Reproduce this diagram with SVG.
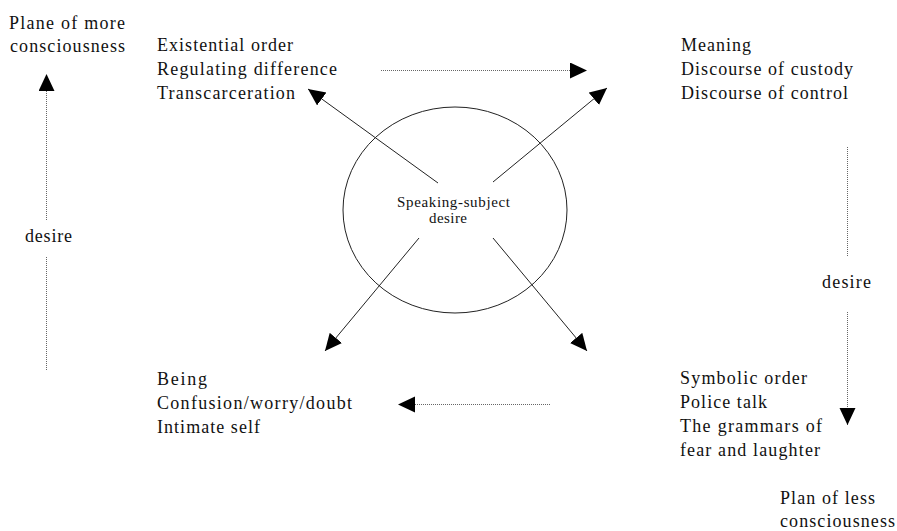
<svg xmlns="http://www.w3.org/2000/svg" width="897" height="531" viewBox="0 0 897 531">
<style>
  text { font-family: 'Liberation Serif', 'DejaVu Serif', serif; font-size: 18px; fill: #111; }
  .small { font-size: 15px; }
  .solid { stroke: #222; stroke-width: 1; fill: none; }
  .dot { stroke: #666; stroke-width: 1; stroke-dasharray: 1 1; fill: none; }
</style>
<defs>
  <marker id="ah" markerUnits="userSpaceOnUse" markerWidth="18" markerHeight="17" refX="17" refY="8" orient="auto" viewBox="0 0 18 17">
    <path d="M0,0 L17,8 L0,16 Z" fill="#000" stroke="none"/>
  </marker>
</defs>
<rect width="897" height="531" fill="#fff"/>

<g font-family="Liberation Serif, serif">
<g id="center">
  <ellipse cx="455" cy="210" rx="112" ry="103" fill="none" stroke="#222" stroke-width="1"/>
  <text class="small" x="397" y="207" textLength="113" lengthAdjust="spacing">Speaking-subject</text>
  <text class="small" x="429" y="223" textLength="38" lengthAdjust="spacing">desire</text>
</g>

<g id="top-left">
  <text x="157" y="51" textLength="136" lengthAdjust="spacing">Existential order</text>
  <text x="157" y="75" textLength="180" lengthAdjust="spacing">Regulating difference</text>
  <text x="157" y="99" textLength="138" lengthAdjust="spacing">Transcarceration</text>
</g>

<g id="top-right">
  <text x="681" y="51" textLength="70" lengthAdjust="spacing">Meaning</text>
  <text x="681" y="75" textLength="172" lengthAdjust="spacing">Discourse of custody</text>
  <text x="681" y="99" textLength="167" lengthAdjust="spacing">Discourse of control</text>
</g>

<g id="bottom-left">
  <text x="157" y="385" textLength="50" lengthAdjust="spacing">Being</text>
  <text x="157" y="409" textLength="195" lengthAdjust="spacing">Confusion/worry/doubt</text>
  <text x="157" y="433" textLength="103" lengthAdjust="spacing">Intimate self</text>
</g>

<g id="bottom-right">
  <text x="680" y="384" textLength="127" lengthAdjust="spacing">Symbolic order</text>
  <text x="680" y="408" textLength="87" lengthAdjust="spacing">Police talk</text>
  <text x="680" y="432" textLength="142" lengthAdjust="spacing">The grammars of</text>
  <text x="680" y="456" textLength="140" lengthAdjust="spacing">fear and laughter</text>
</g>

<g id="plane-more">
  <text x="9" y="29" textLength="116" lengthAdjust="spacing">Plane of more</text>
  <text x="10" y="52" textLength="115" lengthAdjust="spacing">consciousness</text>
</g>

<g id="plan-less">
  <text x="780" y="504" textLength="95" lengthAdjust="spacing">Plan of less</text>
  <text x="780" y="527" textLength="115" lengthAdjust="spacing">consciousness</text>
</g>

<g id="desire-left">
  <text x="25" y="242" textLength="47" lengthAdjust="spacing">desire</text>
</g>

<g id="desire-right">
  <text x="822" y="288" textLength="49" lengthAdjust="spacing">desire</text>
</g>
</g>

<g id="connectors">
  <line class="solid" x1="438" y1="183" x2="308" y2="89" marker-end="url(#ah)"/>
  <line class="solid" x1="493" y1="182" x2="607" y2="88" marker-end="url(#ah)"/>
  <line class="solid" x1="419" y1="238" x2="325" y2="351" marker-end="url(#ah)"/>
  <line class="solid" x1="493" y1="238" x2="587" y2="351" marker-end="url(#ah)"/>
  <line class="dot" x1="381" y1="70.5" x2="587" y2="70.5" marker-end="url(#ah)"/>
  <line class="dot" x1="550" y1="404.5" x2="398" y2="404.5" marker-end="url(#ah)"/>
  <line class="dot" x1="46.5" y1="370" x2="46.5" y2="257"/>
  <line class="dot" x1="46.5" y1="220" x2="46.5" y2="74" marker-end="url(#ah)"/>
  <line class="dot" x1="847.5" y1="147" x2="847.5" y2="256"/>
  <line class="dot" x1="847.5" y1="312" x2="847.5" y2="425" marker-end="url(#ah)"/>
</g>
</svg>
